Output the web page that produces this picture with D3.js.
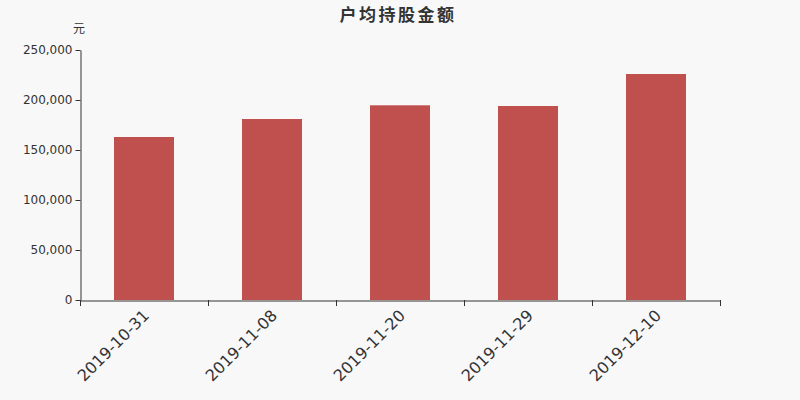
<!DOCTYPE html>
<html><head><meta charset="utf-8">
<script src="https://cdn.jsdelivr.net/npm/d3@7"></script>
<style>body{margin:0;background:#f8f8f8;}svg{display:block;font-family:"DejaVu Sans",sans-serif;}</style>
</head><body><svg id="c" width="800" height="400"></svg>
<script>
const categories = ["2019-10-31","2019-11-08","2019-11-20","2019-11-29","2019-12-10"];
const values = [163000, 181000, 194700, 194000, 226000];
const yTicks = [0, 50000, 100000, 150000, 200000, 250000];
const title = "户均持股金额";
const unit = "元";

const svg = d3.select("#c");
svg.append("rect").attr("width",800).attr("height",400).attr("fill","#f8f8f8");
const m = {l:80, r:80, t:50, b:100};
const x = d3.scaleBand().domain(categories).range([m.l, 800-m.r]).paddingInner(0).paddingOuter(0);
const y = d3.scaleLinear().domain([0,250000]).range([400-m.b, m.t]);
const bw = 60;

svg.append("g").selectAll("rect").data(values).join("rect")
  .attr("x",(d,i)=>x(categories[i])+x.bandwidth()/2-bw/2)
  .attr("y",d=>y(d)).attr("width",bw).attr("height",d=>y(0)-y(d))
  .attr("fill","#c0504d");

const ya = svg.append("g").attr("transform",`translate(${m.l+0.5},0)`)
  .call(d3.axisLeft(y).tickValues(yTicks).tickSize(5).tickSizeOuter(0).tickFormat(d3.format(",")));
ya.selectAll("text").attr("font-size",12).attr("fill","#333").attr("font-family","DejaVu Sans");
ya.selectAll("line,path").attr("stroke","#333");

const xa = svg.append("g").attr("transform",`translate(0,${400-m.b+0.5})`)
  .call(d3.axisBottom(x).tickSize(0).tickSizeOuter(0));
xa.select(".domain").attr("stroke","#333");
xa.selectAll("text").attr("font-size",16).attr("fill","#333").attr("font-family","DejaVu Sans")
  .attr("text-anchor","end").attr("dx","0").attr("dy","0")
  .attr("transform","translate(4,14) rotate(-45)");
const edges = categories.map(c=>x(c)).concat([x(categories[categories.length-1])+x.bandwidth()]);
svg.append("g").selectAll("line").data(edges).join("line")
  .attr("x1",d=>Math.round(d)+0.5).attr("x2",d=>Math.round(d)+0.5)
  .attr("y1",400-m.b).attr("y2",400-m.b+6).attr("stroke","#333");

svg.append("text").attr("x",398).attr("y",21).attr("text-anchor","middle")
  .attr("font-size",17).attr("font-weight","bold").attr("fill","#333").attr("letter-spacing",2.5)
  .attr("font-family","Noto Sans CJK SC").text(title);
svg.append("text").attr("x",79).attr("y",33).attr("text-anchor","middle")
  .attr("font-size",12).attr("fill","#333").attr("font-family","Noto Sans CJK SC").text(unit);
</script></body></html>
